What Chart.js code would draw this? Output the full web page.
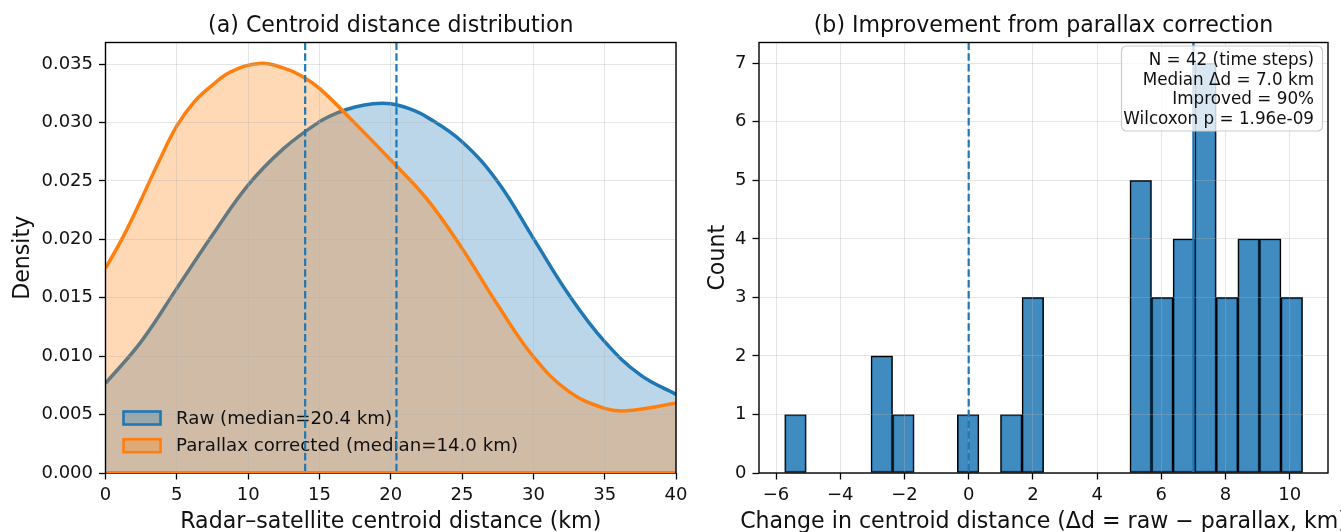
<!DOCTYPE html>
<html><head><meta charset="utf-8">
<script src="https://cdn.jsdelivr.net/npm/chart.js@4.4.1/dist/chart.umd.min.js"></script>
<style>
html,body{margin:0;padding:0;background:#fff;width:1341px;height:532px;overflow:hidden}
#c1{position:absolute;left:0;top:0}
#c2{position:absolute;left:680px;top:0}
</style></head><body>
<canvas id="c1" width="720" height="532"></canvas>
<canvas id="c2" width="661" height="532"></canvas>
<script>
// ---------- Data ----------
const rawX = [0, 2.5, 5, 7.5, 10, 12.5, 15, 16.25, 17.5, 18.75, 20, 21.25, 22.5, 25, 27.5, 30, 32.5, 35, 37.5, 40];
const rawDensity = [0.00767, 0.01124, 0.0158, 0.02037, 0.02464, 0.02778, 0.03006, 0.03082, 0.03132, 0.0316, 0.0316, 0.0312, 0.03049, 0.02835, 0.02493, 0.02008, 0.01523, 0.01124, 0.00839, 0.00673];
const corrX = [0, 1.25, 2.5, 3.75, 5, 6.25, 7.5, 8.75, 10.8, 12.5, 13.75, 15, 17.5, 20, 22.5, 25, 27.5, 30, 32.5, 35, 36.5, 40];
const corrDensity = [0.01751, 0.02025, 0.0234, 0.02668, 0.0297, 0.0318, 0.0332, 0.03431, 0.03505, 0.03465, 0.03398, 0.03291, 0.02992, 0.02678, 0.0235, 0.01922, 0.01438, 0.00995, 0.00696, 0.00553, 0.00533, 0.00596];
const seriesLabels = ['Raw (median=20.4 km)', 'Parallax corrected (median=14.0 km)'];
const seriesMedians = [20.4, 14.0];

const histBinCenters = [-5.394, -4.722, -4.050, -3.378, -2.706, -2.034, -1.362, -0.690, -0.018, 0.654, 1.326, 1.998, 2.670, 3.342, 4.014, 4.686, 5.358, 6.030, 6.702, 7.374, 8.046, 8.718, 9.390, 10.062];
const histCounts     = [1, 0, 0, 0, 2, 1, 0, 0, 1, 0, 1, 3, 0, 0, 0, 0, 5, 3, 4, 7, 3, 4, 4, 3];
const zeroLine = [0];
const medianDelta = [7.0];
const statsLines = ['N = 42 (time steps)', 'Median \u0394d = 7.0 km', 'Improved = 90%', 'Wilcoxon p = 1.96e-09'];

const titles = ['(a) Centroid distance distribution', '(b) Improvement from parallax correction'];
const xTitles = ['Radar\u2013satellite centroid distance (km)', 'Change in centroid distance (\u0394d = raw \u2212 parallax, km)'];
const yTitles = ['Density', 'Count'];

// ---------- Styling helpers ----------
Chart.defaults.font.family = "'DejaVu Sans', sans-serif";
Chart.defaults.color = '#000';
const FONT = "'DejaVu Sans', sans-serif";
const TXT = '#111';
const BLUE = '#1f77b4', ORANGE = '#ff7f0e';

function fitScale(w, h) {
  return function (s) {
    if (w !== null) s.width = w;
    if (h !== null) s.height = h;
    s.paddingLeft = 0; s.paddingRight = 0; s.paddingTop = 0; s.paddingBottom = 0;
  };
}
const gridOpts = { color: 'rgba(176,176,176,0.33)', lineWidth: 1, tickColor: '#000', tickLength: 6.5, tickWidth: 1.3, z: 1, offset: false };
const tickFont = { size: 18 };

function drawSpines(ctx, a) {
  ctx.save();
  ctx.strokeStyle = '#000';
  ctx.lineWidth = 1.4;
  ctx.strokeRect(a.left, a.top, a.right - a.left, a.bottom - a.top);
  ctx.restore();
}
function vLine(chart, v, dash, width) {
  const ctx = chart.ctx, a = chart.chartArea;
  const x = chart.scales.x.getPixelForValue(v);
  ctx.save();
  ctx.strokeStyle = BLUE;
  ctx.lineWidth = width;
  ctx.setLineDash(dash);
  ctx.beginPath(); ctx.moveTo(x, a.top); ctx.lineTo(x, a.bottom); ctx.stroke();
  ctx.restore();
}
function drawTexts(chart, idx, yTitleBaselineX) {
  const ctx = chart.ctx, a = chart.chartArea;
  const cx = (a.left + a.right) / 2;
  ctx.save();
  ctx.fillStyle = TXT;
  ctx.textAlign = 'center';
  ctx.textBaseline = 'alphabetic';
  ctx.font = '22.1px ' + FONT;
  ctx.fillText(titles[idx], cx, 32);
  ctx.fillText(xTitles[idx], cx, 527.5);
  ctx.translate(yTitleBaselineX, (a.top + a.bottom) / 2);
  ctx.rotate(-Math.PI / 2);
  ctx.fillText(yTitles[idx], 0, 0);
  ctx.restore();
}

// ---------- Left chart ----------
const decorLeft = {
  id: 'decorLeft',
  afterDraw(chart) {
    const ctx = chart.ctx, a = chart.chartArea;
    const rows = [a.bottom - 55, a.bottom - 27.3];
    const cols = [[BLUE, 'rgba(31,119,180,0.3)'], [ORANGE, 'rgba(255,127,14,0.3)']];
    ctx.save();
    for (let i = 0; i < 2; i++) {
      const y = rows[i];
      ctx.fillStyle = cols[i][1];
      ctx.fillRect(a.left + 18, y - 6.5, 37, 13);
      ctx.strokeStyle = cols[i][0];
      ctx.lineWidth = 2.6;
      ctx.strokeRect(a.left + 18, y - 6.5, 37, 13);
      ctx.fillStyle = TXT;
      ctx.font = '18.2px ' + FONT;
      ctx.textAlign = 'left';
      ctx.textBaseline = 'middle';
      ctx.fillText(chart.data.datasets[i].label, a.left + 70.5, y + 1);
    }
    ctx.restore();
    seriesMedians.forEach(m => vLine(chart, m, [7.5, 3.3], 2.2));
    drawSpines(ctx, a);
    const y0 = chart.scales.y.getPixelForValue(0);
    ctx.save();
    ctx.strokeStyle = ORANGE; ctx.lineWidth = 2;
    ctx.beginPath(); ctx.moveTo(a.left + 1, y0 - 1); ctx.lineTo(a.right - 1, y0 - 1); ctx.stroke();
    ctx.restore();
    drawTexts(chart, 0, 28.5);
  }
};

new Chart(document.getElementById('c1'), {
  type: 'line',
  data: {
    datasets: [
      { label: seriesLabels[0], data: rawX.map((x, i) => ({ x: x, y: rawDensity[i] })),
        borderColor: BLUE, backgroundColor: 'rgba(31,119,180,0.3)', fill: 'origin',
        borderWidth: 3.5, pointRadius: 0, tension: 0.4, order: 2 },
      { label: seriesLabels[1], data: corrX.map((x, i) => ({ x: x, y: corrDensity[i] })),
        borderColor: ORANGE, backgroundColor: 'rgba(255,127,14,0.3)', fill: 'origin',
        borderWidth: 3.5, pointRadius: 0, tension: 0.4, order: 1 }
    ]
  },
  options: {
    responsive: false, animation: false, devicePixelRatio: 1,
    layout: { padding: { left: 0, right: 44, top: 42.5, bottom: 0 } },
    plugins: { legend: { display: false }, tooltip: { enabled: false } },
    scales: {
      x: { type: 'linear', min: 0, max: 40,
           ticks: { stepSize: 5, font: tickFont, color: TXT, padding: 5, maxRotation: 0, includeBounds: false },
           grid: gridOpts, border: { display: false }, afterFit: fitScale(null, 59) },
      y: { type: 'linear', min: 0, max: 0.03684,
           ticks: { stepSize: 0.005, font: tickFont, color: TXT, padding: 6, includeBounds: false,
                    callback: v => Number(v).toFixed(3) },
           grid: gridOpts, border: { display: false }, afterFit: fitScale(105.5, null) }
    }
  },
  plugins: [decorLeft]
});

// ---------- Right chart ----------
const decorRight = {
  id: 'decorRight',
  afterDraw(chart) {
    const ctx = chart.ctx, a = chart.chartArea;
    zeroLine.forEach(v => vLine(chart, v, [7.5, 3.3], 2.2));
    medianDelta.forEach(v => vLine(chart, v, [], 2.4));
    const bx = a.right - 206.5, by = a.top + 3.5, bw = 201, bh = 85, r = 5;
    ctx.save();
    ctx.beginPath();
    ctx.moveTo(bx + r, by);
    ctx.arcTo(bx + bw, by, bx + bw, by + bh, r);
    ctx.arcTo(bx + bw, by + bh, bx, by + bh, r);
    ctx.arcTo(bx, by + bh, bx, by, r);
    ctx.arcTo(bx, by, bx + bw, by, r);
    ctx.closePath();
    ctx.fillStyle = 'rgba(255,255,255,0.8)';
    ctx.fill();
    ctx.strokeStyle = '#cccccc';
    ctx.lineWidth = 1.2;
    ctx.stroke();
    ctx.fillStyle = TXT;
    ctx.font = '16.8px ' + FONT;
    ctx.textAlign = 'right';
    ctx.textBaseline = 'middle';
    statsLines.forEach((t, i) => ctx.fillText(t, a.right - 14, a.top + 18 + i * 19.67));
    ctx.restore();
    drawSpines(ctx, a);
    drawTexts(chart, 1, 44);
  }
};

new Chart(document.getElementById('c2'), {
  type: 'bar',
  data: {
    datasets: [{
      label: 'Count',
      data: histBinCenters.map((x, i) => ({ x: x, y: histCounts[i] })),
      backgroundColor: 'rgba(31,119,180,0.85)', borderColor: '#000', borderWidth: 1.4,
      borderSkipped: false, barPercentage: 1, categoryPercentage: 1
    }]
  },
  options: {
    responsive: false, animation: false, devicePixelRatio: 1,
    layout: { padding: { left: 0, right: 13, top: 42.5, bottom: 0 } },
    plugins: { legend: { display: false }, tooltip: { enabled: false } },
    scales: {
      x: { type: 'linear', min: -6.53, max: 11.19, offset: false,
           ticks: { stepSize: 2, font: tickFont, color: TXT, padding: 5, maxRotation: 0, includeBounds: false,
                    callback: v => (v < 0 ? '\u2212' + Math.abs(v) : String(v)) },
           grid: gridOpts, border: { display: false }, afterFit: fitScale(null, 59) },
      y: { type: 'linear', min: 0, max: 7.355,
           ticks: { stepSize: 1, font: tickFont, color: TXT, padding: 6, includeBounds: false },
           grid: gridOpts, border: { display: false }, afterFit: fitScale(79, null) }
    }
  },
  plugins: [decorRight]
});
</script>
</body></html>
